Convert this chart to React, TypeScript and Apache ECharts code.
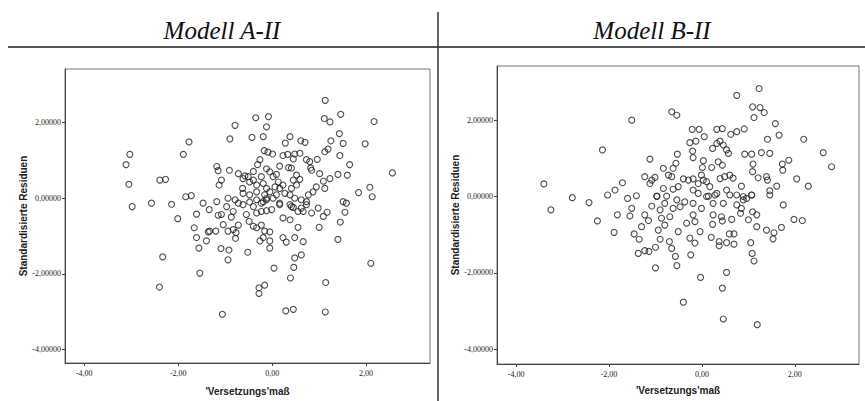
import React, { useEffect, useRef } from "react";
import * as echarts from "echarts";

const titles = ["Modell A-II", "Modell B-II"];
const xAxisName = "'Versetzungs'maß";
const yAxisName = "Standardisierte Residuen";
const tickValues = [-4, -2, 0, 2];

// Modell A-II points [x, y]
const pointsA: number[][] = [
  [1.13, 2.59], [1.46, 2.22], [1.11, 2.11], [1.23, 2.02], [2.17, 2.03], [-0.35, 2.13], [-0.08, 2.16],
  [-0.79, 1.93], [-0.12, 1.89], [1.43, 1.71], [-0.9, 1.57], [-0.43, 1.61], [-0.19, 1.63], [0.38, 1.63],
  [0.28, 1.46], [0.61, 1.52], [0.7, 1.48], [1.25, 1.52], [1.51, 1.45], [1.98, 1.44], [-1.77, 1.49],
  [-1.89, 1.16], [-3.03, 1.16], [-3.11, 0.89], [1.19, 1.3], [1.12, 1.23], [-0.17, 1.26], [-0.09, 1.22],
  [0.01, 1.17], [0.23, 1.13], [0.33, 1.16], [0.45, 1.04], [0.48, 1.17], [0.59, 1.19], [0.73, 1.02],
  [0.8, 0.97], [0.96, 1.03], [1.44, 1.13], [1.65, 0.89], [-0.26, 1.02], [-0.31, 0.89], [-1.18, 0.84],
  [-1.15, 0.73], [-0.91, 0.74], [-0.72, 0.65], [-0.58, 0.59], [-0.62, 0.52], [-0.4, 0.71], [-0.12, 0.78],
  [-0.05, 0.7], [0.02, 0.57], [0.09, 0.63], [0.16, 0.85], [0.35, 0.81], [0.41, 0.8], [0.84, 0.74],
  [0.82, 0.8], [0.52, 0.61], [0.59, 0.5], [0.45, 0.48], [1.01, 0.65], [1.23, 0.52], [1.09, 0.45],
  [1.4, 0.63], [1.6, 0.61], [2.56, 0.67], [-2.39, 0.48], [-2.27, 0.5], [-3.05, 0.37], [-1.08, 0.48],
  [-1.13, 0.35], [-0.48, 0.43], [-0.33, 0.35], [-0.19, 0.39], [0.06, 0.3], [0.13, 0.43], [0.23, 0.35],
  [-0.63, 0.26], [-0.62, 0.13], [1.12, 0.26], [0.94, 0.3], [0.87, 0.17], [0.77, 0.09], [1.84, 0.15],
  [2.08, 0.29], [2.13, 0.04], [-1.84, 0.04], [-1.72, 0.07], [-1.47, -0.13], [-1.18, -0.09], [-0.94, 0],
  [-0.79, -0.04], [-0.16, 0.09], [-0.12, 0], [0.02, 0], [0.09, 0.09], [0.38, 0.09], [0.48, 0],
  [0.62, -0.04], [1.51, -0.09], [1.58, -0.13], [-2.57, -0.13], [-2.14, -0.16], [-2.98, -0.22],
  [-2.01, -0.54], [-1.61, -0.42], [-1.34, -0.3], [-1.15, -0.45], [-1.08, -0.43], [-0.97, -0.22],
  [-0.87, -0.5], [-0.83, -0.35], [-0.72, -0.13], [-1.66, -0.78], [-1.36, -0.89], [-1.33, -0.87],
  [-1.2, -0.87], [-1.04, -0.7], [-0.94, -0.87], [-0.83, -0.83], [-0.77, -0.91], [-0.72, -0.71],
  [-1.61, -1.04], [-1.4, -1.13], [-1.56, -1.32], [-1.09, -1.33], [-0.92, -1.37], [-0.94, -1.63],
  [-0.78, -1.06], [-0.55, -0.43], [-0.49, -0.61], [-0.4, -0.74], [-0.33, -0.78], [-0.23, -0.71],
  [-0.16, -0.87], [-0.05, -0.89], [-0.62, -0.17], [-0.48, -0.1], [-0.33, -0.39], [-0.23, -0.35],
  [-0.12, -0.33], [-0.01, -0.3], [-0.26, -1.13], [-0.19, -1.04], [-0.05, -1.13], [-0.05, -1.32],
  [-0.52, -1.43], [0.16, -0.17], [0.23, -0.52], [0.38, -0.57], [0.41, -0.22], [0.55, -0.35],
  [0.62, -0.26], [0.73, -0.09], [0.84, -0.39], [0.98, -0.26], [1.09, -0.48], [1.17, -0.37],
  [0.55, -0.77], [0.23, -1.04], [0.3, -1.16], [0.48, -1.04], [0.66, -1.15], [1.0, -0.77],
  [1.55, -0.37], [1.45, -0.63], [1.4, -1.09], [0.62, -1.5], [0.48, -1.58], [0.46, -1.83],
  [0.04, -1.85], [0.39, -2.11], [2.1, -1.72], [1.14, -2.23], [-2.33, -1.55], [-1.54, -1.98],
  [-2.4, -2.35], [-0.28, -2.37], [-0.16, -2.3], [-0.28, -2.52], [-1.06, -3.07], [0.29, -2.98],
  [0.45, -2.94], [1.13, -3.01],
  [-0.51, 0.57], [-0.4, 0.48], [-0.23, 0.57], [-0.12, 0.26], [-0.05, 0.17], [0.16, 0.26], [0.27, 0.13],
  [0.41, 0.26], [0.52, 0.35], [-0.33, 0.17], [-0.48, 0.09], [-0.23, -0.13], [0.16, -0.13], [0.38, -0.17],
  [-0.33, -0.04], [-0.19, -0.09], [-0.12, -0.04], [-0.4, -0.22], [0.45, -0.24], [0.66, -0.35], [0.73, -0.17],
];

// Modell B-II points [x, y]
const pointsB: number[][] = [
  [1.23, 2.83], [0.75, 2.65], [1.09, 2.35], [1.25, 2.33], [1.34, 2.2], [1.12, 2.07], [-0.65, 2.22],
  [-0.54, 2.13], [-1.51, 2.0], [1.58, 1.91], [1.66, 1.61], [1.41, 1.5], [2.19, 1.5], [-0.21, 1.76],
  [-0.06, 1.76], [0.05, 1.57], [0.32, 1.76], [0.44, 1.78], [0.62, 1.63], [0.75, 1.7], [0.91, 1.77],
  [-0.26, 1.41], [-0.13, 1.45], [0.23, 1.26], [0.32, 1.39], [0.39, 1.45], [0.46, 1.35], [0.53, 1.22],
  [0.57, 1.13], [-0.2, 1.19], [-0.19, 1.02], [-0.53, 1.11], [-1.12, 0.98], [-2.14, 1.22], [0.92, 1.11],
  [1.07, 1.11], [1.28, 1.15], [1.46, 1.13], [2.61, 1.15], [2.79, 0.78], [1.87, 0.95], [1.73, 0.85],
  [1.74, 0.69], [0.03, 0.94], [0.01, 0.76], [-0.01, 0.56], [0.03, 0.43], [0.21, 0.76], [0.35, 0.91],
  [0.44, 0.82], [1.1, 0.85], [1.09, 0.65], [-0.56, 0.87], [-0.62, 0.74], [-0.72, 0.56], [-0.65, 0.52],
  [-0.83, 0.74], [1.21, 0.49], [1.39, 0.52], [1.41, 0.43], [2.04, 0.46], [1.61, 0.27], [1.46, 0.15],
  [2.29, 0.27], [0.85, 0.27], [0.49, 0.52], [0.6, 0.56], [0.67, 0.48], [0.39, 0.47], [-0.4, 0.46],
  [-0.29, 0.43], [-0.19, 0.46], [-0.08, 0.34], [0.1, 0.39], [0.17, 0.26], [-1.23, 0.52], [-1.01, 0.5],
  [-1.12, 0.34], [-1.08, 0.43], [-1.71, 0.36], [-2.03, 0.04], [-1.87, 0.17], [-1.6, -0.05], [-1.41, 0.02],
  [-3.4, 0.33], [-2.79, -0.03], [-0.83, 0.21], [-0.62, 0.19], [-0.51, 0.26], [-0.19, 0.17], [-0.08, 0.08],
  [0.14, 0.01], [0.28, 0.04], [0.53, 0.17], [0.75, 0.04], [0.89, 0], [1.07, 0.04], [-0.97, 0.01],
  [-0.76, 0.01],
  [-3.25, -0.35], [-2.43, -0.16], [-2.25, -0.64], [-1.82, -0.48], [-1.89, -0.94], [-1.51, -0.31],
  [-1.55, -0.51], [-1.3, -0.79], [-1.23, -0.48], [-1.15, -0.63], [-1.46, -0.98], [-1.35, -1.12],
  [-1.37, -1.49], [-1.23, -1.42], [-1.14, -1.44], [-1.0, -1.33], [-1.0, -1.87], [-1.08, -0.25],
  [-0.97, 0], [-0.9, -0.35], [-0.87, -0.57], [-0.8, -0.75], [-0.94, -0.88], [-0.8, -0.18], [-0.69, -0.53],
  [-0.62, -0.31], [-0.54, -0.09], [-0.47, -0.27], [-0.37, -0.14], [-0.9, -1.12], [-0.7, -1.18],
  [-0.65, -1.36], [-0.57, -1.57], [-0.54, -1.81], [-0.51, -0.92], [-0.33, -0.7], [-0.19, -0.48],
  [-0.15, -0.66], [-0.04, -0.92], [-0.26, -1.09], [-0.15, -1.22], [-0.24, -1.53], [-0.03, -2.12],
  [-0.4, -2.77], [0.53, -1.99], [0.44, -2.4], [0.46, -3.21], [1.19, -3.36], [-0.19, -0.18],
  [-0.01, -0.31], [0.1, 0], [0.24, -0.18], [0.32, 0.08], [0.46, -0.18], [0.6, 0.04], [0.24, -0.48],
  [0.23, -0.73], [0.44, -0.64], [0.42, -0.53], [0.64, -0.6], [0.83, -0.44], [0.85, -0.31], [0.75, -0.22],
  [0.2, -1.07], [0.37, -1.18], [0.37, -1.29], [0.53, -1.21], [0.59, -0.98], [0.69, -0.98], [0.69, -1.25],
  [1.0, -0.61], [1.09, -0.4], [1.18, -0.48], [1.18, -0.79], [1.05, -1.21], [1.08, -1.49], [1.12, -1.69],
  [0.89, -0.09], [1.07, 0.04], [0.96, -0.05], [1.39, -0.88], [1.55, -0.95], [1.53, -1.11], [1.71, -0.81],
  [1.75, -0.22], [1.98, -0.6], [2.16, -0.63], [1.46, 0.04],
];

const grids = [
  { left: 65, top: 69, width: 365, height: 298, xMin: -4.41, xMax: 3.36, yMin: -4.36, yMax: 3.42, xGap: 23 },
  { left: 497, top: 66, width: 362, height: 298, xMin: -4.41, xMax: 3.38, yMin: -4.39, yMax: 3.42, xGap: 21 },
];

export default function App() {
  const ref = useRef<HTMLDivElement>(null);
  useEffect(() => {
    if (!ref.current) return;
    const chart = echarts.init(ref.current, undefined, { renderer: "svg" });
    const tickFont = { fontFamily: "Liberation Serif", fontSize: 8, color: "#222" };
    const nameStyle = { fontFamily: "Liberation Sans", fontWeight: "bold" as const, fontSize: 10, color: "#222" };
    chart.setOption({
      animation: false,
      backgroundColor: "#fff",
      grid: grids.map((g) => ({
        left: g.left, top: g.top, width: g.width, height: g.height,
        show: true, borderColor: "#777", borderWidth: 1, containLabel: false,
      })),
      xAxis: grids.map((g, i) => ({
        type: "value", gridIndex: i, min: g.xMin, max: g.xMax,
        name: xAxisName, nameLocation: "middle", nameGap: g.xGap, nameTextStyle: nameStyle,
        splitLine: { show: false },
        axisLine: { show: true, onZero: false, lineStyle: { color: "#444", width: 1 } },
        axisTick: { show: true, length: 3, customValues: tickValues, lineStyle: { color: "#444" } },
        axisLabel: {
          ...tickFont, margin: 6, customValues: tickValues,
          formatter: (v: number) => v.toFixed(2).replace(".", ","),
        },
      })),
      yAxis: grids.map((g, i) => ({
        type: "value", gridIndex: i, min: g.yMin, max: g.yMax,
        name: yAxisName, nameLocation: "middle", nameGap: 37, nameRotate: 90, nameTextStyle: nameStyle,
        splitLine: { show: false },
        axisLine: { show: true, onZero: false, lineStyle: { color: "#444", width: 1 } },
        axisTick: { show: true, length: 3, customValues: tickValues, lineStyle: { color: "#444" } },
        axisLabel: {
          ...tickFont, margin: 4, customValues: tickValues,
          formatter: (v: number) => v.toFixed(5).replace(".", ","),
        },
      })),
      series: [pointsA, pointsB].map((pts, i) => ({
        type: "scatter", xAxisIndex: i, yAxisIndex: i, data: pts,
        symbol: "circle", symbolSize: 6,
        itemStyle: { color: "rgba(0,0,0,0)", borderColor: "#222", borderWidth: 1.1 },
      })),
      graphic: [
        { type: "text", x: 222, y: 30, style: { text: titles[0], font: "italic 25px 'Liberation Serif'", fill: "#111", align: "center", verticalAlign: "middle" } },
        { type: "text", x: 652, y: 30, style: { text: titles[1], font: "italic 25px 'Liberation Serif'", fill: "#111", align: "center", verticalAlign: "middle" } },
        { type: "line", shape: { x1: 8, y1: 47, x2: 865, y2: 47 }, style: { stroke: "#555", lineWidth: 2 } },
        { type: "line", shape: { x1: 438, y1: 12, x2: 438, y2: 401 }, style: { stroke: "#333", lineWidth: 1.5 } },
      ],
    });
    return () => chart.dispose();
  }, []);
  return <div ref={ref} style={{ position: "fixed", left: 0, top: 0, width: 865, height: 401 }} />;
}
